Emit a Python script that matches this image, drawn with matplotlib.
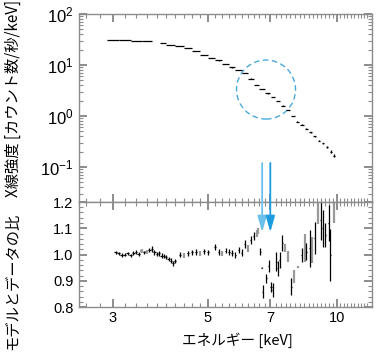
import numpy as np
import matplotlib
matplotlib.use("Agg")
import matplotlib.pyplot as plt
from matplotlib.patches import Circle, ConnectionPatch
from matplotlib.transforms import ScaledTranslation
from matplotlib.ticker import FixedLocator, NullFormatter, FuncFormatter, MultipleLocator, LogLocator

plt.rcParams['font.family'] = ['Liberation Sans', 'Noto Sans CJK JP', 'DejaVu Sans']
plt.rcParams['mathtext.fontset'] = 'custom'
plt.rcParams['mathtext.rm'] = 'Liberation Sans'
plt.rcParams['mathtext.it'] = 'Liberation Sans'

# ---------------- data ----------------
# Top panel: spectrum (energy keV, counts/s/keV)
E_top = [3.0, 3.2, 3.4, 3.6, 3.93, 4.1, 4.3, 4.5, 4.7, 4.9, 5.1, 5.3, 5.5, 5.7, 5.9,
         6.1, 6.3, 6.5, 6.7, 6.9, 7.1, 7.3, 7.5, 7.7, 7.9, 8.1, 8.3, 8.5, 8.7, 8.9,
         9.1, 9.3, 9.5, 9.7, 9.85]
F_top = [31.2, 30.5, 30.0, 29.2, 26.8, 25.0, 23.3, 21.5, 18.8, 15.9, 13.9, 12.3, 10.6, 9.0, 8.0,
         7.0, 5.4, 4.1, 3.4, 2.8, 2.35, 1.98, 1.6, 1.31, 1.0, 0.77, 0.67, 0.56, 0.48, 0.40,
         0.33, 0.29, 0.245, 0.20, 0.165]
F_top_err = [0.15, 0.15, 0.15, 0.15, 0.15, 0.15, 0.15, 0.15, 0.12, 0.1, 0.1, 0.1, 0.08, 0.07, 0.06,
             0.06, 0.05, 0.04, 0.04, 0.04, 0.03, 0.03, 0.025, 0.025, 0.02, 0.018, 0.018, 0.016, 0.015, 0.014,
             0.013, 0.012, 0.011, 0.011, 0.011]
E_top_halfwidth = [0.1, 0.1, 0.1, 0.1, 0.06, 0.1, 0.1, 0.1, 0.1, 0.1, 0.1, 0.1, 0.1, 0.1, 0.1,
                   0.1, 0.1, 0.1, 0.1, 0.09, 0.09, 0.09, 0.09, 0.09, 0.09, 0.08, 0.08, 0.08, 0.07, 0.07,
                   0.07, 0.06, 0.06, 0.06, 0.05]

# Bottom panel: data/model ratio, black points
E_rb = [3.05, 3.10, 3.15, 3.20, 3.25, 3.30, 3.35, 3.40, 3.45, 3.55, 3.65, 3.70, 3.75, 3.80,
        3.85, 3.90, 3.95, 4.00, 4.05, 4.10, 4.15, 4.20, 4.30, 4.50, 4.60, 4.70, 4.90,
        5.00, 5.20, 5.30, 5.50, 5.60, 5.70, 5.80, 5.90, 6.00, 6.10, 6.30, 6.40,
        6.63, 6.68, 6.72, 6.85, 6.94, 7.03, 7.09, 7.23, 7.29, 7.36, 7.47, 7.84,
        8.28, 8.50, 8.66, 8.90, 9.18, 9.29, 9.41, 9.58, 9.67]
R_rb = [1.008, 1.004, 0.998, 1.000, 1.004, 0.997, 1.006, 1.010, 1.003, 1.008, 1.016, 1.020, 1.008, 1.002,
        1.004, 0.996, 0.994, 0.990, 0.984, 0.976, 0.966, 0.975, 1.000, 1.004, 1.008, 1.010, 1.012,
        1.008, 1.028, 1.010, 1.015, 1.010, 1.005, 0.998, 1.017, 1.007, 1.040, 1.055, 1.072,
        1.011, 0.950, 0.858, 0.909, 0.957, 0.877, 0.865, 0.973, 0.947, 0.979, 1.043, 0.877,
        0.998, 1.011, 1.024, 1.062, 1.131, 1.100, 1.074, 1.120, 0.998]
R_rb_err = [0.006, 0.006, 0.006, 0.006, 0.006, 0.006, 0.006, 0.007, 0.007, 0.007, 0.008, 0.012, 0.008, 0.008,
            0.008, 0.008, 0.008, 0.008, 0.008, 0.009, 0.009, 0.009, 0.009, 0.009, 0.009, 0.010, 0.010,
            0.010, 0.012, 0.011, 0.011, 0.012, 0.012, 0.012, 0.013, 0.013, 0.014, 0.014, 0.015,
            0.012, 0.002, 0.025, 0.016, 0.022, 0.019, 0.028, 0.035, 0.030, 0.030, 0.030, 0.032,
            0.025, 0.032, 0.070, 0.060, 0.076, 0.070, 0.045, 0.070, 0.100]

# Bottom panel: data/model ratio, grey points
E_rg = [3.50, 3.60, 4.40, 4.80, 5.40, 6.20, 6.50, 6.55, 7.56, 7.70, 7.94, 8.13, 8.43, 8.74, 9.06, 9.85]
R_rg = [1.012, 1.010, 0.996, 1.004, 1.004, 1.024, 1.080, 1.090, 1.024, 0.992, 0.915, 0.954, 1.024, 1.017, 1.163, 1.165]
R_rg_err = [0.008, 0.008, 0.009, 0.010, 0.011, 0.013, 0.012, 0.012, 0.015, 0.020, 0.025, 0.004, 0.054, 0.050, 0.045, 0.045]

# Annotations
line_energies = [6.70, 7.00]          # Fe XXV / Fe XXVI arrows
arrow_colors = ['#6cc0ec', '#1e9ce0']
circle_center = (6.84, 3.3)           # keV, counts/s/keV

x_major = [3, 5, 7, 10]
x_major_labels = ['3', '5', '7', '10']
x_minor = [2.6, 2.8, 3.2, 3.4, 3.6, 3.8, 4.0, 4.2, 4.4, 4.6, 4.8, 5.2, 5.4, 5.6, 5.8, 6.0,
           6.2, 6.4, 6.6, 6.8, 7.2, 7.4, 7.6, 7.8, 8.0, 8.2, 8.4, 8.6, 8.8, 9.0, 9.2, 9.4,
           9.6, 9.8, 10.2, 10.4, 10.6, 10.8, 11.0, 11.2, 11.4, 11.6, 11.8]
ratio_ticks = [0.8, 0.9, 1.0, 1.1, 1.2]

# ---------------- figure ----------------
W, H = 376, 352
fig = plt.figure(figsize=(W / 100, H / 100), dpi=100)
ax1 = fig.add_axes([79 / W, 1 - 202 / H, 293 / W, 188 / H])
ax2 = fig.add_axes([79 / W, 1 - 307 / H, 293 / W, 105 / H], sharex=ax1)

grey = '#8c8c8c'

ax1.errorbar(E_top, F_top, yerr=F_top_err, xerr=E_top_halfwidth, fmt='none',
             ecolor='black', elinewidth=0.9, capsize=0)
ax1.set_xscale('log')
ax1.set_yscale('log')
ax1.set_xlim(2.5, 12.1)
ax1.set_ylim(0.0206, 100)

ax2.errorbar(E_rg, R_rg, yerr=R_rg_err, xerr=0.03, fmt='none',
             ecolor='#999999', elinewidth=1.6, capsize=0)
ax2.errorbar(E_rb, R_rb, yerr=R_rb_err, xerr=0.025, fmt='none',
             ecolor='black', elinewidth=0.9, capsize=0)
ax2.set_ylim(0.8, 1.2)

for ax in (ax1, ax2):
    for s in ax.spines.values():
        s.set_color(grey)
        s.set_linewidth(1.0)
    ax.tick_params(which='both', direction='in', top=True, right=True, color=grey,
                   labelsize=10.5, pad=4)
    ax.tick_params(which='major', length=6, width=1.4)
    ax.tick_params(which='minor', length=3, width=0.8)
    ax.xaxis.set_major_locator(FixedLocator(x_major))
    ax.xaxis.set_minor_locator(FixedLocator(x_minor))
    ax.xaxis.set_minor_formatter(NullFormatter())

ax1.tick_params(axis='x', labelbottom=False)
ax2.set_xticks(x_major)
ax2.set_xticklabels(x_major_labels)
ax2.tick_params(axis='x', pad=3)

ax1.yaxis.set_major_locator(LogLocator(base=10, numticks=10))
ax1.yaxis.set_minor_locator(LogLocator(base=10, subs=np.arange(2, 10), numticks=10))
ax1.yaxis.set_minor_formatter(NullFormatter())
ax1.yaxis.set_major_formatter(FuncFormatter(
    lambda v, p: r'$10^{%d}$' % int(round(np.log10(v))) if v >= 0.09 else ''))
ax1.tick_params(axis='y', labelsize=12)

ax2.yaxis.set_major_locator(FixedLocator(ratio_ticks))
ax2.yaxis.set_minor_locator(MultipleLocator(0.02))
ax2.yaxis.set_major_formatter(FuncFormatter(lambda v, p: '%.1f' % v))

# dashed circle (radius in inches around a data point)
circ = Circle((0, 0), radius=0.295, fill=False, edgecolor='#4aa9dc', linewidth=1.0,
              linestyle=(0, (4, 2.5)),
              transform=fig.dpi_scale_trans + ScaledTranslation(circle_center[0], circle_center[1], ax1.transData))
ax1.add_artist(circ)

# arrows from upper panel to ratio panel
for e, c in zip(line_energies, arrow_colors):
    cp = ConnectionPatch(xyA=(e, 0.12), coordsA=ax1.transData,
                         xyB=(e, 1.085), coordsB=ax2.transData,
                         arrowstyle='-|>,head_length=0.6,head_width=0.17', mutation_scale=16,
                         color=c, linewidth=1.3, shrinkA=0, shrinkB=0)
    fig.add_artist(cp)

ja = ['Noto Sans CJK JP', 'DejaVu Sans']
fig.text(13 / W, 1 - 98 / H, 'X線強度 [カウント数/秒/keV]', rotation=90, ha='center', va='center',
         fontsize=11, family=ja)
fig.text(13 / W, 1 - 281 / H, 'モデルとデータの比', rotation=90, ha='center', va='center',
         fontsize=11, family=ja)
fig.text(237 / W, 1 - 340 / H, 'エネルギー [keV]', ha='center', va='center', fontsize=10.5, family=ja)

fig.savefig('out.png', dpi=100)
